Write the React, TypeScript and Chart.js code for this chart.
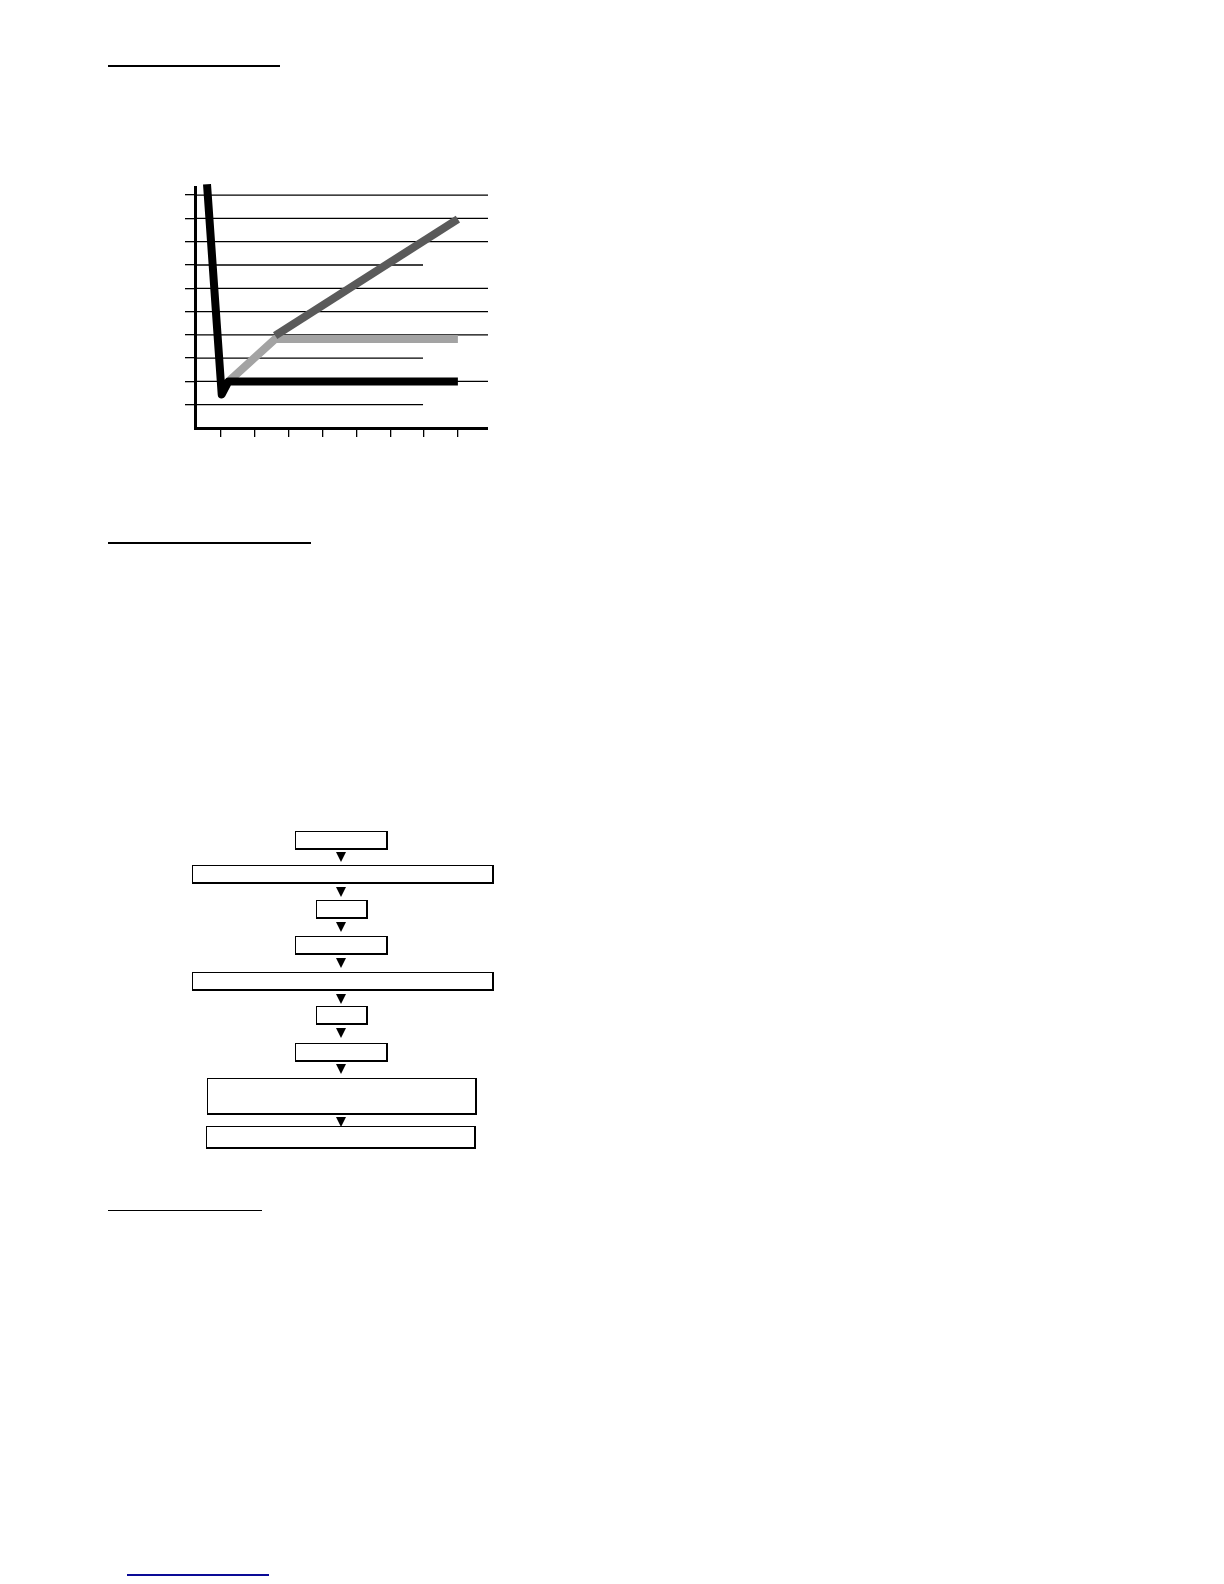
import React, { useEffect, useRef } from "react";
import { Chart, registerables } from "chart.js";

Chart.register(...registerables);

// Valores
const xTicks = [1, 2, 3, 4, 5, 6, 7, 8];
const yTicks = [1, 2, 3, 4, 5, 6, 7, 8, 9, 10];
const longGridY = [2, 4, 5, 6, 8, 9, 10];
const shortGridY = [1, 3, 7];
const shortGridEnd = 6.97;

const blackX = [0.586, 1.02, 1.22, 8];
const blackY = [10.47, 1.44, 2, 2];
const lightX = [1.22, 2.6, 8];
const lightY = [2, 3.82, 3.82];
const darkX = [2.6, 8];
const darkY = [3.97, 8.97];

const X_MIN = 0.231;
const X_MAX = 8.89;
const Y_MAX = 10.35;

const toPoints = (xs: number[], ys: number[]) =>
  xs.map((x, i) => ({ x, y: ys[i] }));

// Líneas de cuadrícula de distinta longitud
const partialGrid = {
  id: "partialGrid",
  beforeDatasetsDraw(chart: Chart) {
    const { ctx, scales } = chart;
    const x = scales.x;
    const y = scales.y;
    ctx.save();
    ctx.strokeStyle = "#000";
    ctx.lineWidth = 1.3;
    const draw = (vals: number[], end: number) => {
      vals.forEach((v) => {
        const py = y.getPixelForValue(v);
        ctx.beginPath();
        ctx.moveTo(x.left, py);
        ctx.lineTo(x.getPixelForValue(end), py);
        ctx.stroke();
      });
    };
    draw(longGridY, X_MAX);
    draw(shortGridY, shortGridEnd);
    ctx.restore();
  },
};

const LineChart: React.FC = () => {
  const chartRef = useRef<HTMLCanvasElement>(null);
  const chartInstanceRef = useRef<Chart | null>(null);

  useEffect(() => {
    if (!chartRef.current) return;
    if (chartInstanceRef.current) chartInstanceRef.current.destroy();

    const line = (data: { x: number; y: number }[], color: string) => ({
      data,
      borderColor: color,
      borderWidth: 8,
      pointRadius: 0,
      tension: 0,
      borderCapStyle: "butt" as const,
      borderJoinStyle: "round" as const,
      clip: false as const,
    });

    chartInstanceRef.current = new Chart(chartRef.current, {
      type: "line",
      data: {
        datasets: [
          line(toPoints(blackX, blackY), "#000000"),
          line(toPoints(darkX, darkY), "#5a5a5a"),
          line(toPoints(lightX, lightY), "#a3a3a3"),
        ],
      },
      options: {
        animation: false,
        responsive: true,
        maintainAspectRatio: false,
        events: [],
        layout: { padding: { top: 17, right: 0, left: 0, bottom: 0 } },
        plugins: { legend: { display: false }, tooltip: { enabled: false } },
        scales: {
          x: {
            type: "linear",
            min: X_MIN,
            max: X_MAX,
            afterBuildTicks: (scale) => {
              scale.ticks = xTicks.map((v) => ({ value: v }));
            },
            afterFit: (scale) => {
              scale.height = 12;
            },
            ticks: { display: false },
            grid: {
              drawOnChartArea: false,
              drawTicks: true,
              tickLength: 9,
              lineWidth: 1.3,
              color: "#000",
            },
            border: { display: true, width: 3, color: "#000" },
          },
          y: {
            type: "linear",
            min: 0,
            max: Y_MAX,
            afterBuildTicks: (scale) => {
              scale.ticks = yTicks.map((v) => ({ value: v }));
            },
            afterFit: (scale) => {
              scale.width = 20;
            },
            ticks: { display: false },
            grid: {
              drawOnChartArea: false,
              drawTicks: true,
              tickLength: 10,
              lineWidth: 1.3,
              color: "#000",
            },
            border: { display: true, width: 3, color: "#000" },
          },
        },
      },
      plugins: [partialGrid],
    });

    return () => {
      if (chartInstanceRef.current) {
        chartInstanceRef.current.destroy();
        chartInstanceRef.current = null;
      }
    };
  }, []);

  return <canvas ref={chartRef} />;
};

// Diagrama de flujo (cajas vacías)
const boxes = [
  { left: 295, top: 831, width: 93, height: 19 },
  { left: 192, top: 865, width: 302, height: 19 },
  { left: 316, top: 900, width: 52, height: 19 },
  { left: 295, top: 936, width: 93, height: 19 },
  { left: 192, top: 972, width: 302, height: 19 },
  { left: 316, top: 1006, width: 52, height: 19 },
  { left: 295, top: 1043, width: 93, height: 19 },
  { left: 207, top: 1078, width: 270, height: 37 },
  { left: 206, top: 1126, width: 270, height: 23 },
];
const arrowTops = [852, 887, 922, 958, 994, 1028, 1064, 1117];

const rule = (
  left: number,
  top: number,
  width: number,
  thickness: number,
  color = "#000"
): React.CSSProperties => ({
  position: "absolute",
  left,
  top,
  width,
  height: thickness,
  background: color,
});

const App: React.FC = () => {
  return (
    <div
      style={{
        position: "absolute",
        left: 0,
        top: 0,
        width: 1224,
        height: 1580,
        overflow: "hidden",
        background: "#fff",
      }}
    >
      <div style={rule(108, 65, 172, 2)} />
      <div style={rule(108, 542, 203, 2)} />
      <div style={rule(108, 1210, 154, 1.4)} />
      <div style={rule(127, 1574, 142, 1.5, "#0a0a96")} />

      <div
        style={{ position: "absolute", left: 175, top: 170, width: 313, height: 270 }}
      >
        <LineChart />
      </div>

      {boxes.map((b, i) => (
        <div
          key={i}
          style={{
            position: "absolute",
            left: b.left,
            top: b.top,
            width: b.width,
            height: b.height,
            boxSizing: "border-box",
            borderStyle: "solid",
            borderColor: "#000",
            borderWidth: "1.5px 2px 2px 1.5px",
            background: "#fff",
          }}
        />
      ))}
      {arrowTops.map((t, i) => (
        <div
          key={"a" + i}
          style={{
            position: "absolute",
            left: 335.5,
            top: t,
            width: 0,
            height: 0,
            borderLeft: "5.5px solid transparent",
            borderRight: "5.5px solid transparent",
            borderTop: "10px solid #000",
            zIndex: 2,
          }}
        />
      ))}
    </div>
  );
};

export default App;
